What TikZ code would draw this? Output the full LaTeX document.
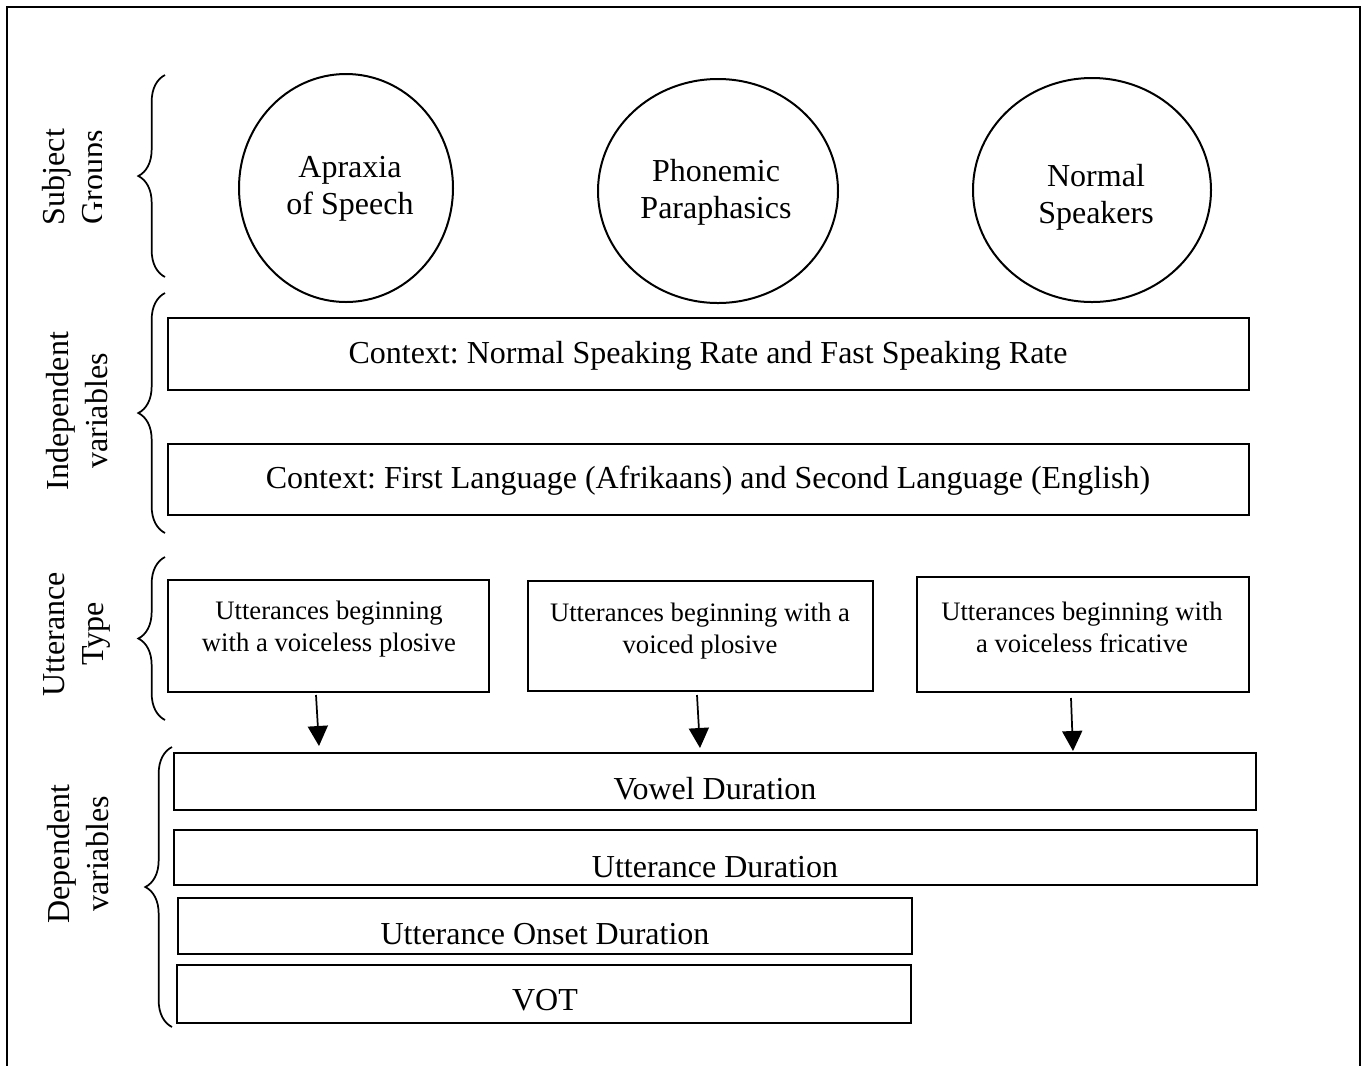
\documentclass[tikz,border=0pt]{standalone}
\usepackage{fontspec}
\setmainfont{Liberation Serif}
\usetikzlibrary{arrows.meta,decorations.pathreplacing}
\begin{document}
\frenchspacing
\begin{tikzpicture}[x=0.75pt,y=-0.75pt,
  line width=1.5pt,
  big/.style={font=\fontsize{24}{28}\selectfont},
  small/.style={font=\fontsize{20}{24}\selectfont},
  lbl/.style={rotate=90,align=center,font=\fontsize{24}{29}\selectfont},
  bracestyle/.style={decorate,decoration={brace,amplitude=20,aspect=0.5},line width=1.3pt},
  arr/.style={-{Triangle[length=15pt,width=15pt]},line width=1.3pt}]
\useasboundingbox (0,0) rectangle (1367,1065);
\draw[line width=1.6pt] (7,1066) -- (7,7) -- (1360,7) -- (1360,1066);
% braces
\draw[bracestyle] (165,277) -- (165,75);
\draw[bracestyle] (165,533) -- (165,293);
\draw[bracestyle] (165,720) -- (165,557);
\draw[bracestyle] (172,1027) -- (172,747);
% labels
\begin{scope}
\clip (0,0) rectangle (101,1065);
\node[lbl] (lsg) at (76,177) {Subject\\Groups};
\end{scope}
\node[lbl] (liv) at (77,411) {Independent\\variables};
\node[lbl] (lut) at (77,634) {Utterance\\Type};
\node[lbl] (ldv) at (78,854) {Dependent\\variables};
% circles
\draw (346,188) ellipse [x radius=107, y radius=114];
\node[big,align=center] (c1) at (350,189) {Apraxia\\of Speech};
\draw (718,191) ellipse [x radius=120, y radius=112];
\node[big,align=center] (c2) at (716,192) {Phonemic\\Paraphasics};
\draw (1092,190) ellipse [x radius=119, y radius=112];
\node[big,align=center] (c3) at (1096,197) {Normal\\Speakers};
% independent variable boxes
\draw (168,318) rectangle (1249,390);
\node[big] (iv1) at (708,356) {Context: Normal Speaking Rate and Fast Speaking Rate};
\draw (168,444) rectangle (1249,515);
\node[big] (iv2) at (708,481) {Context: First Language (Afrikaans) and Second Language (English)};
% utterance type boxes
\draw (168,580) rectangle (489,692);
\node[small,align=center] (u1) at (329,629) {Utterances beginning\\with a voiceless plosive};
\draw (528,581) rectangle (873,691);
\node[small,align=center] (u2) at (700,631) {Utterances beginning with a\\voiced plosive};
\draw (917,577) rectangle (1249,692);
\node[small,align=center] (u3) at (1082,627) {Utterances beginning with\\a voiceless fricative};
% dependent boxes
\draw (174,753) rectangle (1256,810);
\node[big] (d1) at (715,789) {Vowel Duration};
\draw (174,830) rectangle (1257,885);
\node[big] (d2) at (715,867) {Utterance Duration};
\draw (178,898) rectangle (912,954);
\node[big] (d3) at (545,934) {Utterance Onset Duration};
\draw (177,965) rectangle (911,1023);
\node[big] (d4) at (545,1000) {VOT};
% arrows
\coordinate (a1s) at (316,695); \coordinate (a1e) at (319,746);
\coordinate (a2s) at (697,695); \coordinate (a2e) at (700,748);
\coordinate (a3s) at (1071,698); \coordinate (a3e) at (1073,751);
\draw[arr] (a1s) -- (a1e);
\draw[arr] (a2s) -- (a2e);
\draw[arr] (a3s) -- (a3e);
\end{tikzpicture}
\end{document}
